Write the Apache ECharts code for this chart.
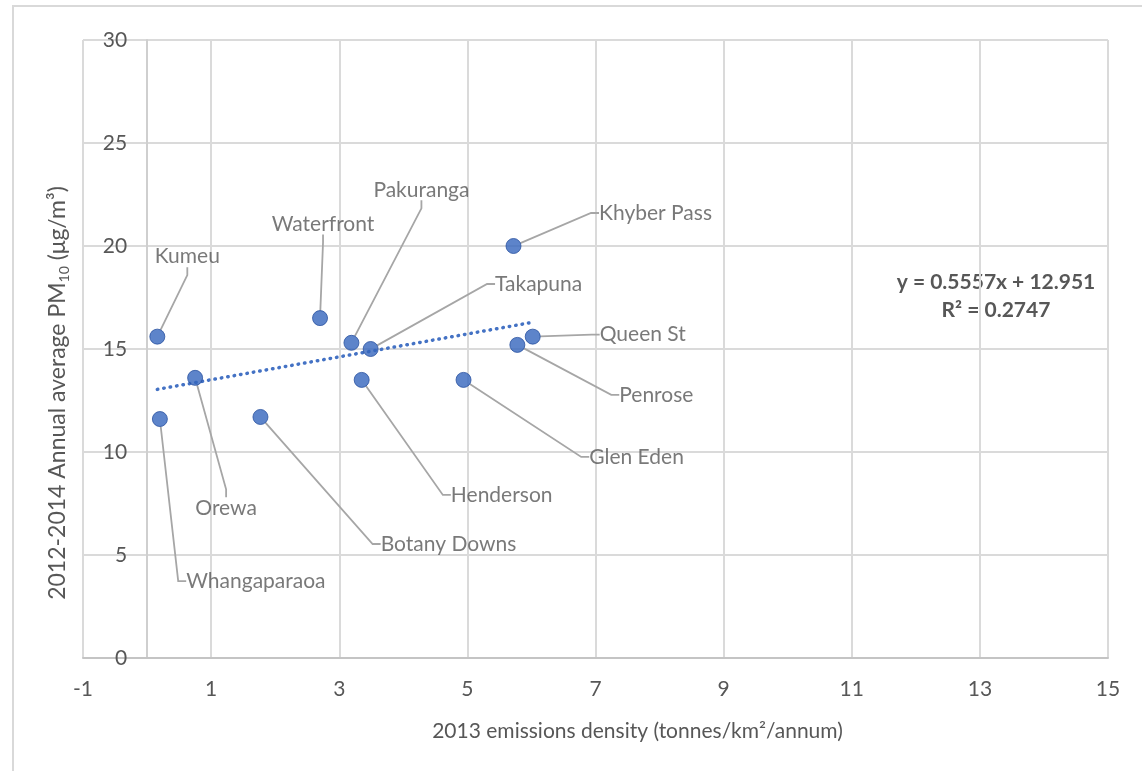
<!DOCTYPE html>
<html>
<head>
<meta charset="utf-8">
<script src="https://cdn.jsdelivr.net/npm/echarts@6/dist/echarts.min.js"></script>
<style>
html,body{margin:0;padding:0;background:#fff;}
#chart{width:1142px;height:771px;}
</style>
</head>
<body>
<div id="chart"></div>
<script>
// ---- data ----
const siteNames = ['Kumeu','Orewa','Whangaparaoa','Botany Downs','Waterfront','Pakuranga','Takapuna','Henderson','Glen Eden','Khyber Pass','Queen St','Penrose'];
const emissionsDensity = [0.16, 0.75, 0.20, 1.77, 2.70, 3.19, 3.49, 3.35, 4.94, 5.72, 6.02, 5.78];
const pm10Average = [15.6, 13.6, 11.6, 11.7, 16.5, 15.3, 15.0, 13.5, 13.5, 20.0, 15.6, 15.2];
const xTicks = [-1, 1, 3, 5, 7, 9, 11, 13, 15];
const yTicks = [0, 5, 10, 15, 20, 25, 30];
const trendSlope = 0.5557;
const trendIntercept = 12.951;
const trendText = ['y = 0.5557x + 12.951', 'R\u00B2 = 0.2747'];

// ---- label layout (offset of label centre from point, px) ----
const labelOffsets = {
  'Kumeu': [30, -80], 'Orewa': [31, 130], 'Whangaparaoa': [96, 162], 'Botany Downs': [188, 127],
  'Waterfront': [3, -94], 'Pakuranga': [70, -153], 'Takapuna': [168, -65], 'Henderson': [140, 115],
  'Glen Eden': [173, 77], 'Khyber Pass': [142, -33], 'Queen St': [110, -2], 'Penrose': [139, 50]
};

const FONT = 'Lato, "Open Sans", sans-serif';
const TXT = '#575757';
const W = 1142, GRID_L = 83, GRID_R = 34;
const xMin = xTicks[0], xMax = xTicks[xTicks.length - 1];
// shift the vertical axis so that it crosses at x = 0
const yAxisOffset = -(0 - xMin) / (xMax - xMin) * (W - GRID_L - GRID_R);

const points = siteNames.map((n, i) => ({ name: n, value: [emissionsDensity[i], pm10Average[i]] }));
const xMinData = Math.min(...emissionsDensity), xMaxData = Math.max(...emissionsDensity);
const trendData = [[xMinData, trendSlope * xMinData + trendIntercept], [xMaxData, trendSlope * xMaxData + trendIntercept]];

const chart = echarts.init(document.getElementById('chart'), null, { renderer: 'canvas' });
chart.setOption({
  animation: false,
  backgroundColor: '#fff',
  textStyle: { fontFamily: FONT },
  grid: { left: GRID_L, right: GRID_R, top: 40, bottom: 113, outerBoundsMode: 'none', containLabel: false },
  graphic: [
    { type: 'rect', x: 13, y: 6, shape: { width: 1200, height: 800 }, style: { fill: 'none', stroke: '#D9D9D9', lineWidth: 2 }, silent: true, z: -10 },
    { type: 'text', x: 996, y: 282, style: { text: trendText[0], font: 'bold 21px ' + FONT, fill: TXT, textAlign: 'center', textVerticalAlign: 'middle' } },
    { type: 'text', x: 996, y: 310, style: { text: trendText[1], font: 'bold 21px ' + FONT, fill: TXT, textAlign: 'center', textVerticalAlign: 'middle' } }
  ],
  xAxis: {
    type: 'value', min: xMin, max: xMax, interval: 2,
    name: '2013 emissions density (tonnes/km\u00B2/annum)',
    nameLocation: 'middle', nameGap: 63,
    nameTextStyle: { color: TXT, fontSize: 21, fontFamily: FONT, padding: [0, 0, 0, 84] },
    axisLine: { show: true, lineStyle: { color: '#C4C4C4', width: 2 } },
    axisTick: { show: false },
    axisLabel: { color: TXT, fontSize: 21, fontFamily: FONT, margin: 21 },
    splitLine: { show: true, lineStyle: { color: '#DADADA', width: 2 } }
  },
  yAxis: {
    type: 'value', min: yTicks[0], max: yTicks[yTicks.length - 1], interval: 5,
    offset: yAxisOffset,
    name: '{a|2012-2014 Annual average PM}{s|10}{a| (\u03BCg/m\u00B3)}{pad|\u00A0}',
    nameLocation: 'middle', nameGap: 74,
    nameTextStyle: {
      color: TXT, fontSize: 23, fontFamily: FONT,
      rich: {
        a: { fontSize: 23, color: TXT, fontFamily: FONT, lineHeight: 30, verticalAlign: 'middle' },
        s: { fontSize: 14, color: TXT, fontFamily: FONT, lineHeight: 14, verticalAlign: 'bottom', padding: [0, 0, 2, 0] },
        pad: { width: 88, fontSize: 23, lineHeight: 30, color: 'rgba(0,0,0,0)' }
      }
    },
    axisLine: { show: true, onZero: false, lineStyle: { color: '#CFCFCF', width: 2 } },
    axisTick: { show: false },
    axisLabel: { color: TXT, fontSize: 21, fontFamily: FONT, margin: 20 },
    splitLine: { show: true, lineStyle: { color: '#DADADA', width: 2 } }
  },
  series: [
    {
      type: 'line', data: trendData, symbol: 'none', silent: true, z: 3,
      lineStyle: { color: '#4472C4', width: 3.5, type: [0.5, 6], cap: 'round' }
    },
    {
      type: 'scatter', data: points, symbolSize: 15, z: 4,
      itemStyle: { color: '#3565BD', borderColor: '#2A52A0', borderWidth: 1 },
      label: {
        show: true, position: 'inside', formatter: '{b}', color: TXT, fontSize: 21, fontFamily: FONT, padding: [2, 5]
      },
      labelLine: { show: true, length2: 8, lineStyle: { color: '#A6A6A6', width: 1.8 } },
      labelLayout: function (p) {
        const o = labelOffsets[siteNames[p.dataIndex]];
        return { dx: o[0], dy: o[1] };
      }
    }
  ]
});
</script>
</body>
</html>
